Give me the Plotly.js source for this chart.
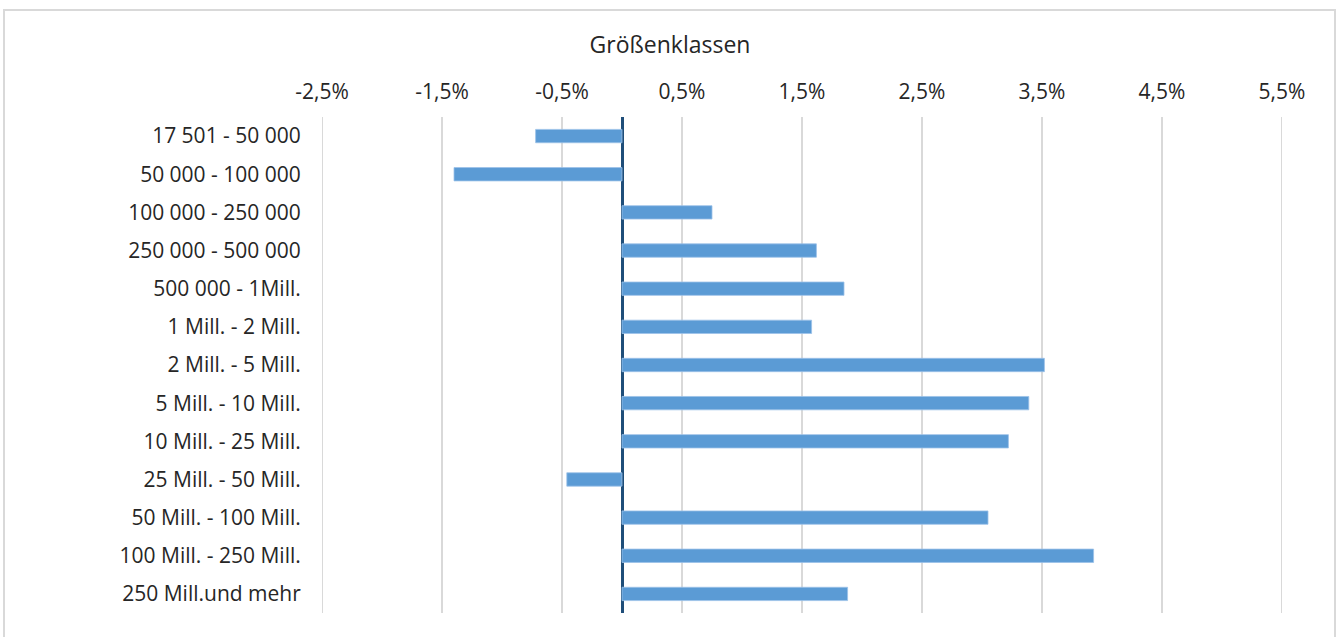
<!DOCTYPE html>
<html>
<head>
<meta charset="utf-8">
<script src="https://cdn.plot.ly/plotly-3.0.1.min.js"></script>
<style>html,body{margin:0;padding:0;background:#fff;}#chart{width:1336px;height:637px;}</style>
</head>
<body>
<div id="chart"></div>
<script>
const categories = [
  "17 501 - 50 000",
  "50 000 - 100 000",
  "100 000 - 250 000",
  "250 000 - 500 000",
  "500 000 - 1Mill.",
  "1 Mill. - 2 Mill.",
  "2 Mill. - 5 Mill.",
  "5 Mill. - 10 Mill.",
  "10 Mill. - 25 Mill.",
  "25 Mill. - 50 Mill.",
  "50 Mill. - 100 Mill.",
  "100 Mill. - 250 Mill.",
  "250 Mill.und mehr"
];
const values = [-0.72, -1.40, 0.75, 1.62, 1.85, 1.58, 3.52, 3.39, 3.22, -0.46, 3.05, 3.93, 1.88];
const tickValues = [-2.5, -1.5, -0.5, 0.5, 1.5, 2.5, 3.5, 4.5, 5.5];
const tickLabels = ["-2,5%", "-1,5%", "-0,5%", "0,5%", "1,5%", "2,5%", "3,5%", "4,5%", "5,5%"];
const chartTitle = "Größenklassen";

const fontFam = '"Open Sans", "Noto Sans", sans-serif';
const textColor = '#262626';
const gridColor = '#d9d9d9';

const trace = {
  type: 'bar',
  orientation: 'h',
  x: values,
  y: categories,
  width: 0.35,
  marker: {color: '#5b9bd5', line: {color: '#9cc2e8', width: 0.8}},
  hoverinfo: 'x+y'
};

const xMin = tickValues[0], xMax = tickValues[tickValues.length - 1];

// edge gridlines (Plotly omits gridlines lying exactly on the plot edge)
const edgeGrid = [xMin, xMax].map(v => ({
  type: 'line', xref: 'x', yref: 'paper',
  x0: v, x1: v, y0: 0, y1: 1,
  line: {color: gridColor, width: 2},
  layer: 'below'
}));

const layout = {
  width: 1336,
  height: 637,
  margin: {l: 322, r: 54, t: 117, b: 24},
  paper_bgcolor: '#ffffff',
  plot_bgcolor: '#ffffff',
  showlegend: false,
  title: {
    text: chartTitle,
    x: 670 / 1336,
    xanchor: 'center',
    xref: 'container',
    y: 1 - 45 / 637,
    yanchor: 'middle',
    yref: 'container',
    font: {family: fontFam, size: 23, color: textColor}
  },
  xaxis: {
    side: 'top',
    range: [xMin, xMax],
    tickmode: 'array',
    tickvals: tickValues,
    ticktext: tickLabels,
    showgrid: true,
    gridcolor: gridColor,
    gridwidth: 2,
    zeroline: true,
    zerolinecolor: '#1f4e79',
    zerolinewidth: 3,
    showline: false,
    ticks: 'outside',
    ticklen: 9,
    tickcolor: 'rgba(0,0,0,0)',
    tickfont: {family: fontFam, size: 21, color: textColor},
    fixedrange: true
  },
  yaxis: {
    type: 'category',
    autorange: 'reversed',
    showgrid: false,
    zeroline: false,
    showline: false,
    ticks: 'outside',
    ticklen: 16,
    tickcolor: 'rgba(0,0,0,0)',
    tickfont: {family: fontFam, size: 21, color: textColor},
    fixedrange: true
  },
  shapes: edgeGrid.concat([{
    type: 'rect',
    xref: 'paper', yref: 'paper',
    x0: (4 - 322) / 960, x1: (1335 - 322) / 960,
    y0: -(645 - 613) / 496, y1: 1 + (117 - 10) / 496,
    line: {color: gridColor, width: 2},
    fillcolor: 'rgba(0,0,0,0)',
    layer: 'below'
  }])
};

Plotly.newPlot('chart', [trace], layout, {displayModeBar: false, staticPlot: true});
</script>
</body>
</html>
